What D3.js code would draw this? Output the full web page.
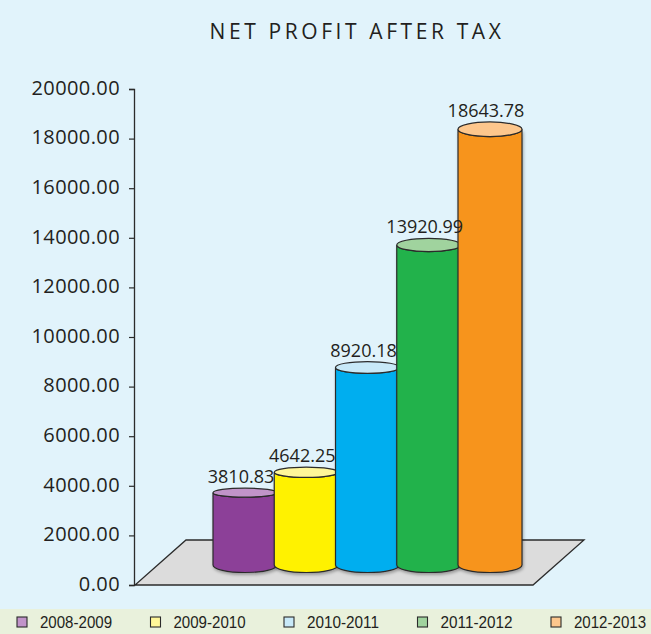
<!DOCTYPE html>
<html>
<head>
<meta charset="utf-8">
<script src="https://cdn.jsdelivr.net/npm/d3@7"></script>
<style>
  body { margin: 0; background: #e1f3fb; }
  svg { display: block; }
</style>
</head>
<body>
<div id="chart"></div>
<script>
// chart data
const years = ['2008-2009', '2009-2010', '2010-2011', '2011-2012', '2012-2013'];
const profits = [3810.83, 4642.25, 8920.18, 13920.99, 18643.78];
const valueLabels = ['3810.83', '4642.25', '8920.18', '13920.99', '18643.78'];
const tickValues = [0, 2000, 4000, 6000, 8000, 10000, 12000, 14000, 16000, 18000, 20000];

const bodyColors = ['#8c3f98', '#fff200', '#00aeef', '#24b24b', '#f7941e'];
const topColors = ['#c194c9', '#fff799', '#c8e9f8', '#a0d39e', '#fdc78d'];

const width = 651, height = 634;
const axisX = 134;
const legendTop = 609;

const svg = d3.select('#chart').append('svg')
    .attr('width', width)
    .attr('height', height);

// drop shadow for the cylinders
const defs = svg.append('defs');
const shadow = defs.append('filter').attr('id', 'shadow')
    .attr('x', '-20%').attr('y', '-20%').attr('width', '140%').attr('height', '140%');
shadow.append('feDropShadow')
    .attr('dx', 1).attr('dy', 2).attr('stdDeviation', 1.5)
    .attr('flood-color', '#000').attr('flood-opacity', 0.3);

// backgrounds
svg.append('rect').attr('width', width).attr('height', legendTop).attr('fill', '#e1f3fb');
svg.append('rect').attr('y', legendTop).attr('width', width).attr('height', height - legendTop).attr('fill', '#e9f1dc');

// title
svg.append('text')
    .attr('x', 357)
    .attr('y', 39)
    .attr('text-anchor', 'middle')
    .style('font-family', '"Open Sans", sans-serif')
    .style('font-size', '21px')
    .style('letter-spacing', '3.6px')
    .attr('fill', '#231f20')
    .text('NET PROFIT AFTER TAX');

// scales
const yScale = d3.scaleLinear().domain([0, 20000]).range([585, 89]);
// bars sit on the floor, slightly offset from the axis
const barScale = d3.scaleLinear().domain([0, 20000]).range([586, 96]);
const xScale = d3.scalePoint().domain(years).range([245, 490]);
const legendScale = d3.scalePoint().domain(years).range([17, 551]);

// floor (parallelogram)
const floorBack = 540, floorFront = yScale(0);
const floor = d3.path();
floor.moveTo(axisX + 1, floorFront);
floor.lineTo(533, floorFront);
floor.lineTo(584, floorBack);
floor.lineTo(186, floorBack);
floor.closePath();
svg.append('path')
    .attr('d', floor.toString())
    .attr('fill', '#dcdcdc')
    .attr('stroke', '#2b2b2b')
    .attr('stroke-width', 1.3)
    .attr('stroke-linejoin', 'miter');

// y axis
const yAxis = d3.axisLeft(yScale)
    .tickValues(tickValues)
    .tickFormat(d3.format('.2f'))
    .tickSize(5)
    .tickPadding(9);

const axisG = svg.append('g')
    .attr('transform', `translate(${axisX},0)`)
    .call(yAxis);
axisG.select('.domain').attr('stroke', '#2b2b2b').attr('stroke-width', 1.3);
axisG.selectAll('.tick line').attr('stroke', '#2b2b2b').attr('stroke-width', 1.2);
axisG.selectAll('.tick text')
    .attr('dy', '0.26em')
    .attr('fill', '#231f20')
    .style('font-family', '"Open Sans", sans-serif')
    .style('font-size', '20px')
    .style('letter-spacing', '0.4px');

// cylinders
const rx = 32;
const bottomY = 565, bottomRy = 7.5;

const data = years.map((y, i) => ({
  year: y, value: profits[i], label: valueLabels[i],
  body: bodyColors[i], top: topColors[i], ry: 4.5 + i * 0.7
}));

const bars = svg.append('g').selectAll('g.bar')
    .data(data)
    .join('g')
    .attr('class', 'bar');

bars.append('path')
    .attr('filter', 'url(#shadow)')
    .attr('d', d => {
      const cx = xScale(d.year), top = barScale(d.value);
      const p = d3.path();
      p.moveTo(cx - rx, top);
      p.lineTo(cx - rx, bottomY);
      return p.toString() +
        ` A ${rx} ${bottomRy} 0 0 0 ${cx + rx} ${bottomY}` +
        ` L ${cx + rx} ${top} A ${rx} ${d.ry} 0 0 1 ${cx - rx} ${top} Z`;
    })
    .attr('fill', d => d.body)
    .attr('stroke', '#2b2b2b')
    .attr('stroke-width', 1.2);

bars.append('ellipse')
    .attr('cx', d => xScale(d.year))
    .attr('cy', d => barScale(d.value))
    .attr('rx', rx)
    .attr('ry', d => d.ry)
    .attr('fill', d => d.top)
    .attr('stroke', '#2b2b2b')
    .attr('stroke-width', 1.2);

// value labels above all bars
svg.append('g').selectAll('text')
    .data(data)
    .join('text')
    .attr('x', d => xScale(d.year) - 4)
    .attr('y', d => barScale(d.value) - d.ry - 5)
    .attr('text-anchor', 'middle')
    .attr('fill', '#231f20')
    .style('font-family', '"Open Sans", sans-serif')
    .style('font-size', '18px')
    .text(d => d.label);

// legend
const legend = svg.append('g').selectAll('g.legend-item')
    .data(data)
    .join('g')
    .attr('class', 'legend-item')
    .attr('transform', d => `translate(${legendScale(d.year)},${legendTop + 13})`);

legend.append('rect')
    .attr('y', -5)
    .attr('width', 10)
    .attr('height', 10)
    .attr('fill', d => d.top)
    .attr('stroke', '#2b2b2b')
    .attr('stroke-width', 1.1);

legend.append('text')
    .attr('x', 23)
    .attr('dy', '0.36em')
    .attr('fill', '#231f20')
    .attr('textLength', 72)
    .attr('lengthAdjust', 'spacingAndGlyphs')
    .style('font-family', '"Liberation Sans", sans-serif')
    .style('font-size', '16px')
    .text(d => d.year);
</script>
</body>
</html>
